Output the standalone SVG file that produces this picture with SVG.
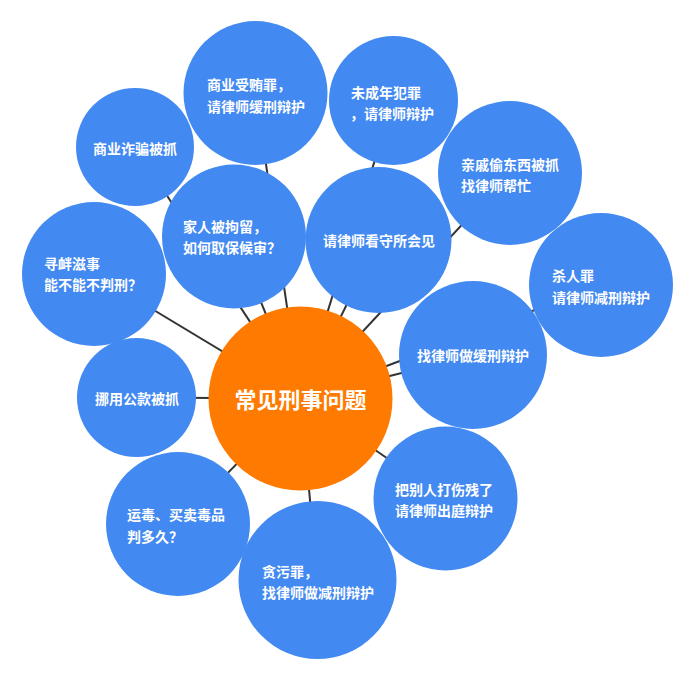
<svg xmlns="http://www.w3.org/2000/svg" width="694" height="680" viewBox="0 0 694 680">
<style>
.lk{stroke:#333;stroke-width:2;fill:none}
.b{fill:#4289F1}
.c{fill:#FF7A00}
text{font-family:"Noto Sans CJK SC","Noto Sans",sans-serif;font-weight:bold;fill:#fff;font-size:14px}
.ct{font-size:22px;text-anchor:middle}
</style>
<rect width="694" height="680" fill="#fff"/>
<g id="connectors">
<line class="lk" x1="300.5" y1="398.5" x2="255.5" y2="93"/>
<line class="lk" x1="300.5" y1="398.5" x2="135" y2="147"/>
<line class="lk" x1="300.5" y1="398.5" x2="393.5" y2="100.5"/>
<line class="lk" x1="300.5" y1="398.5" x2="510" y2="173"/>
<line class="lk" x1="300.5" y1="398.5" x2="601" y2="285"/>
<line class="lk" x1="300.5" y1="398.5" x2="473" y2="355"/>
<line class="lk" x1="300.5" y1="398.5" x2="445.5" y2="498.5"/>
<line class="lk" x1="300.5" y1="398.5" x2="317.5" y2="580"/>
<line class="lk" x1="300.5" y1="398.5" x2="178" y2="524"/>
<line class="lk" x1="300.5" y1="398.5" x2="136.5" y2="397.5"/>
<line class="lk" x1="300.5" y1="398.5" x2="94" y2="274"/>
<line class="lk" x1="300.5" y1="398.5" x2="234" y2="236.5"/>
<line class="lk" x1="300.5" y1="398.5" x2="378.5" y2="240"/>
</g>
<g id="n-center"><circle class="c" cx="300.5" cy="398.5" r="92"/><text class="ct" x="300.5" y="408">常见刑事问题</text></g>
<g id="n1"><circle class="b" cx="255.5" cy="93" r="72"/><text x="207" y="89.5">商业受贿罪，</text><text x="207" y="111.5">请律师缓刑辩护</text></g>
<g id="n2"><circle class="b" cx="135" cy="147" r="59"/><text x="93" y="154">商业诈骗被抓</text></g>
<g id="n3"><circle class="b" cx="393.5" cy="100.5" r="64.5"/><text x="351" y="98">未成年犯罪</text><text x="350" y="118.5">，请律师辩护</text></g>
<g id="n4"><circle class="b" cx="510" cy="173" r="72"/><text x="461" y="169.5">亲戚偷东西被抓</text><text x="461" y="190.5">找律师帮忙</text></g>
<g id="n5"><circle class="b" cx="601" cy="285" r="72"/><text x="552" y="281">杀人罪</text><text x="552" y="302.5">请律师减刑辩护</text></g>
<g id="n6"><circle class="b" cx="473" cy="355" r="74"/><text x="417" y="361">找律师做缓刑辩护</text></g>
<g id="n7"><circle class="b" cx="445.5" cy="498.5" r="72"/><text x="395" y="495">把别人打伤残了</text><text x="395" y="516">请律师出庭辩护</text></g>
<g id="n8"><circle class="b" cx="317.5" cy="580" r="79"/><text x="262" y="577">贪污罪，</text><text x="262" y="597.5">找律师做减刑辩护</text></g>
<g id="n9"><circle class="b" cx="178" cy="524" r="72"/><text x="127" y="520">运毒、买卖毒品</text><text x="127" y="541.5">判多久？</text></g>
<g id="n10"><circle class="b" cx="136.5" cy="397.5" r="59.5"/><text x="95" y="404">挪用公款被抓</text></g>
<g id="n11"><circle class="b" cx="94" cy="274" r="72"/><text x="44" y="269">寻衅滋事</text><text x="44" y="290">能不能不判刑？</text></g>
<g id="n12"><circle class="b" cx="234" cy="236.5" r="72"/><text x="183" y="232">家人被拘留，</text><text x="183" y="253">如何取保候审？</text></g>
<g id="n13"><circle class="b" cx="378.5" cy="240" r="73"/><text x="323" y="246">请律师看守所会见</text></g>
</svg>
